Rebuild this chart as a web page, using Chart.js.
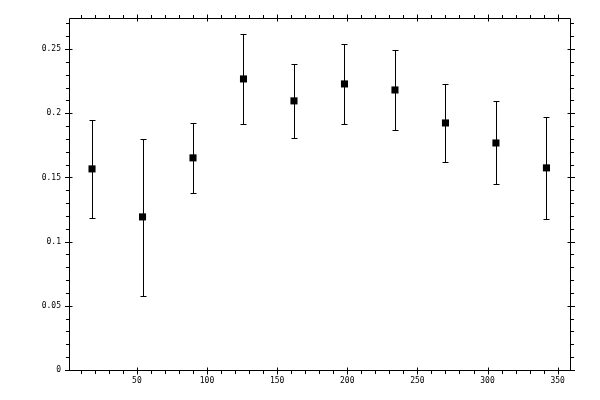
<!DOCTYPE html>
<html>
<head>
<meta charset="utf-8">
<script src="https://cdn.jsdelivr.net/npm/chart.js@4/dist/chart.umd.min.js"></script>
<style>body{margin:0;background:#fff}</style>
</head>
<body>
<canvas id="myChart" width="600" height="400"></canvas>
<script>
// measured points (angle, value) with lower / upper error limits
var angles = [18, 54, 90, 126, 162, 198, 234, 270, 306, 342];
var values = [0.1567, 0.1193, 0.1653, 0.2268, 0.2097, 0.2229, 0.2182, 0.1925, 0.1769, 0.1575];
var lowErr = [0.1185, 0.0578, 0.138, 0.1917, 0.1808, 0.1917, 0.1871, 0.1621, 0.145, 0.1178];
var highErr = [0.1949, 0.180, 0.1922, 0.2615, 0.2385, 0.254, 0.2494, 0.2229, 0.2097, 0.1972];

var xTicks = [50, 100, 150, 200, 250, 300, 350];
var xTickLabels = ["50", "100", "150", "200", "250", "300", "350"];
var yTicks = [0, 0.05, 0.1, 0.15, 0.2, 0.25];
var yTickLabels = ["0", "0.05", "0.1", "0.15", "0.2", "0.25"];

var xMinorStep = 10;
var yMinorStep = 0.01;

var tickFont = { family: "DejaVu Sans Mono", size: 8 };

// white background
var bgPlugin = {
    id: "bg",
    beforeDraw: function (chart) {
        var ctx = chart.ctx;
        ctx.save();
        ctx.fillStyle = "#fff";
        ctx.fillRect(0, 0, chart.width, chart.height);
        ctx.restore();
    }
};

// box frame with ticks on all four sides
var framePlugin = {
    id: "frame",
    afterDraw: function (chart) {
        var ctx = chart.ctx;
        var xs = chart.scales.x, ys = chart.scales.y;
        var a = chart.chartArea;
        var L = a.left - 0.5, R = a.right + 0.5, T = a.top - 0.5, B = a.bottom + 0.5;
        ctx.save();
        ctx.strokeStyle = "#000";
        ctx.lineWidth = 1;
        ctx.beginPath();
        ctx.rect(L, T, R - L, B - T);

        // x minor ticks (outward)
        for (var v = Math.ceil(xs.min / xMinorStep) * xMinorStep; v <= xs.max; v += xMinorStep) {
            var px = Math.round(xs.getPixelForValue(v)) + 0.5;
            ctx.moveTo(px, B); ctx.lineTo(px, B + 3.5);
            ctx.moveTo(px, T); ctx.lineTo(px, T - 3.5);
        }
        // x major ticks (crossing)
        xTicks.forEach(function (v) {
            var px = Math.round(xs.getPixelForValue(v)) + 0.5;
            ctx.moveTo(px, B - 3); ctx.lineTo(px, B + 4);
            ctx.moveTo(px, T - 4); ctx.lineTo(px, T + 3);
        });
        // y minor ticks
        for (var k = 1; k * yMinorStep <= ys.max; k++) {
            var py = Math.round(ys.getPixelForValue(k * yMinorStep)) + 0.5;
            ctx.moveTo(L, py); ctx.lineTo(L - 3.5, py);
            ctx.moveTo(R, py); ctx.lineTo(R + 3.5, py);
        }
        // y major ticks
        yTicks.forEach(function (v) {
            var py = Math.round(ys.getPixelForValue(v)) + 0.5;
            ctx.moveTo(L - 4.5, py); ctx.lineTo(L + 3, py);
            ctx.moveTo(R - 3, py); ctx.lineTo(R + 4.5, py);
        });
        ctx.stroke();
        ctx.restore();
    }
};

// vertical error bars with small caps
var errorBarPlugin = {
    id: "errorbars",
    beforeDatasetsDraw: function (chart) {
        var ctx = chart.ctx;
        var xs = chart.scales.x, ys = chart.scales.y;
        ctx.save();
        ctx.strokeStyle = "#000";
        ctx.lineWidth = 1;
        ctx.beginPath();
        for (var i = 0; i < angles.length; i++) {
            var px = Math.round(xs.getPixelForValue(angles[i])) + 0.5;
            var pLo = Math.round(ys.getPixelForValue(lowErr[i])) + 0.5;
            var pHi = Math.round(ys.getPixelForValue(highErr[i])) + 0.5;
            ctx.moveTo(px, pLo); ctx.lineTo(px, pHi);
            ctx.moveTo(px - 3, pLo); ctx.lineTo(px + 3, pLo);
            ctx.moveTo(px - 3, pHi); ctx.lineTo(px + 3, pHi);
        }
        ctx.stroke();
        ctx.restore();
    }
};

var ctx = document.getElementById("myChart").getContext("2d");
var chart = new Chart(ctx, {
    type: "scatter",
    data: {
        datasets: [{
            data: angles.map(function (a, i) { return { x: a, y: values[i] }; }),
            pointStyle: "rect",
            pointRadius: 5,
            pointHoverRadius: 5,
            backgroundColor: "#000",
            borderColor: "#000",
            borderWidth: 0
        }]
    },
    options: {
        responsive: false,
        animation: false,
        devicePixelRatio: 1,
        layout: { padding: { top: 19, right: 30, left: 0, bottom: 0 } },
        plugins: { legend: { display: false }, tooltip: { enabled: false } },
        scales: {
            x: {
                type: "linear",
                min: 2.3,
                max: 358.8,
                border: { display: false },
                grid: { display: false, drawTicks: false },
                afterBuildTicks: function (scale) {
                    scale.ticks = xTicks.map(function (v) { return { value: v }; });
                },
                afterFit: function (scale) { scale.height = 30; },
                ticks: {
                    font: tickFont,
                    color: "#000",
                    padding: 6,
                    maxRotation: 0,
                    autoSkip: false,
                    callback: function (v) {
                        var i = xTicks.indexOf(v);
                        return i >= 0 ? xTickLabels[i] : "";
                    }
                }
            },
            y: {
                min: 0,
                max: 0.2735,
                border: { display: false },
                grid: { display: false, drawTicks: false },
                afterBuildTicks: function (scale) {
                    scale.ticks = yTicks.map(function (v) { return { value: v }; });
                },
                afterFit: function (scale) { scale.width = 70; },
                ticks: {
                    font: tickFont,
                    color: "#000",
                    padding: 9,
                    autoSkip: false,
                    callback: function (v) {
                        for (var i = 0; i < yTicks.length; i++) {
                            if (Math.abs(yTicks[i] - v) < 1e-9) return yTickLabels[i];
                        }
                        return "";
                    }
                }
            }
        }
    },
    plugins: [bgPlugin, errorBarPlugin, framePlugin]
});
</script>
</body>
</html>
